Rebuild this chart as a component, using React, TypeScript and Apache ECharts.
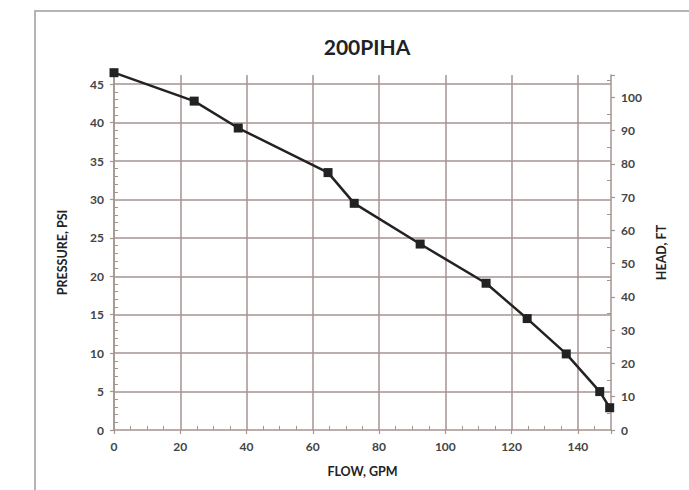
import React, { useEffect, useRef } from "react";
import * as echarts from "echarts";

const title = "200PIHA";
const flowGpm = [0, 24.2, 37.5, 64.6, 72.5, 92.4, 112.3, 124.7, 136.5, 146.6, 149.6];
const pressurePsi = [46.5, 42.8, 39.3, 33.5, 29.5, 24.2, 19.1, 14.5, 9.9, 5.0, 2.9];
const xAxisName = "FLOW, GPM";
const leftAxisName = "PRESSURE, PSI";
const rightAxisName = "HEAD, FT";

const GRID = "#a39490";
const FONT = "Lato, 'Open Sans', sans-serif";

export default function App() {
  const ref = useRef<HTMLDivElement>(null);
  useEffect(() => {
    if (!ref.current) return;
    const chart = echarts.init(ref.current, undefined, { renderer: "svg" });
    const psiMax = 46.2;
    const ftMax = psiMax * 2.31;
    const tickLabel = { fontFamily: FONT, fontWeight: "bold", fontSize: 12, color: "#444" };
    const nameStyle = { fontFamily: FONT, fontWeight: "bold", fontSize: 12.5, color: "#222" };
    chart.setOption({
      animation: false,
      backgroundColor: "#ffffff",
      textStyle: { fontFamily: FONT },
      graphic: [
        {
          type: "rect",
          shape: { x: 35, y: 11, width: 700, height: 520 },
          style: { fill: "none", stroke: "#b8b3b0", lineWidth: 2 },
          silent: true,
        },
      ],
      title: {
        text: title,
        left: 362,
        textAlign: "center",
        top: 31,
        textStyle: { fontFamily: FONT, fontWeight: "bold", fontSize: 21, color: "#222" },
      },
      grid: { left: 114, right: 78, top: 75, bottom: 60 },
      xAxis: {
        type: "value",
        min: 0,
        max: 150,
        interval: 20,
        name: xAxisName,
        nameLocation: "middle",
        nameGap: 35,
        nameTextStyle: nameStyle,
        axisLine: { show: true, lineStyle: { color: GRID, width: 1.5 } },
        axisTick: { show: true, length: 4, lineStyle: { color: GRID, width: 1.2 } },
        minorTick: { show: true, splitNumber: 4, length: -4, lineStyle: { color: GRID, width: 1 } },
        axisLabel: { ...tickLabel, showMaxLabel: false, margin: 10 },
        splitLine: { show: true, showMaxLine: false, lineStyle: { color: GRID, width: 1.5 } },
      },
      yAxis: [
        {
          type: "value",
          min: 0,
          max: psiMax,
          interval: 5,
          name: leftAxisName,
          nameLocation: "middle",
          nameGap: 45,
          nameRotate: 90,
          nameTextStyle: nameStyle,
          axisLine: { show: true, lineStyle: { color: GRID, width: 1.5 } },
          axisTick: { show: true, length: 4, lineStyle: { color: GRID, width: 1.2 } },
          minorTick: { show: true, splitNumber: 5, length: -4, lineStyle: { color: GRID, width: 1 } },
          axisLabel: { ...tickLabel, showMaxLabel: false, margin: 10 },
          splitLine: { show: true, showMaxLine: false, showMinLine: false, lineStyle: { color: GRID, width: 1.5 } },
        },
        {
          type: "value",
          min: 0,
          max: ftMax,
          interval: 10,
          position: "right",
          name: rightAxisName,
          nameLocation: "middle",
          nameGap: 44,
          nameRotate: 90,
          nameTextStyle: nameStyle,
          axisLine: { show: true, lineStyle: { color: GRID, width: 1.5 } },
          axisTick: { show: true, length: 4, lineStyle: { color: GRID, width: 1.2 } },
          minorTick: { show: true, splitNumber: 2, length: -4, lineStyle: { color: GRID, width: 1 } },
          axisLabel: { ...tickLabel, showMaxLabel: false, margin: 10 },
          splitLine: { show: false },
        },
      ],
      series: [
        {
          type: "line",
          yAxisIndex: 0,
          data: flowGpm.map((x, i) => [x, pressurePsi[i]]),
          symbol: "rect",
          symbolSize: 9,
          lineStyle: { color: "#222", width: 2.5 },
          itemStyle: { color: "#222" },
          clip: false,
        },
      ],
    });
    return () => chart.dispose();
  }, []);
  return (
    <div
      ref={ref}
      style={{ position: "fixed", left: 0, top: 0, width: 689, height: 490 }}
    />
  );
}
